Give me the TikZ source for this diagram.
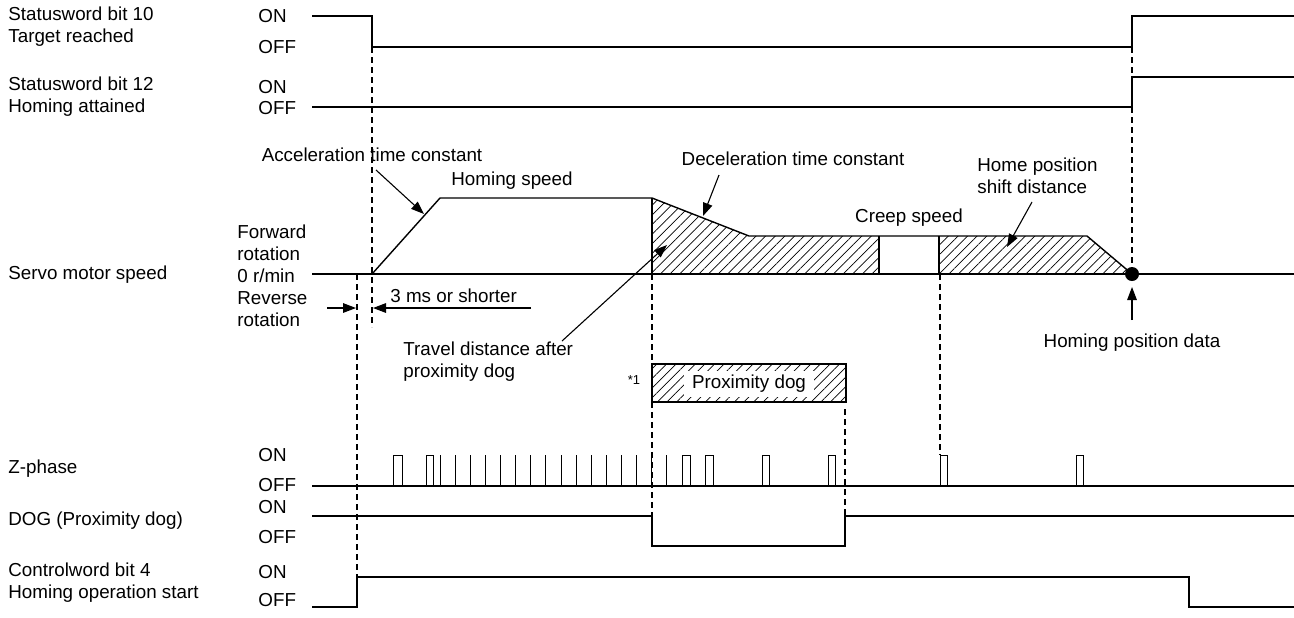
\documentclass[tikz,border=0pt]{standalone}
\usepackage{fontspec}
\setmainfont{Liberation Sans}
\usetikzlibrary{arrows.meta,patterns.meta}

\begin{document}
\begin{tikzpicture}[x=0.5pt,y=-0.5pt,
  lbl/.style={align=left, anchor=west, inner sep=0pt, font=\fontsize{9.4}{11}\selectfont},
  mid/.style={align=center, inner sep=0pt, font=\fontsize{9.4}{11}\selectfont},
  sig/.style={line width=0.7pt},
  pulse/.style={line width=0.5pt},
  guide/.style={dash pattern=on 2.8pt off 2.2pt, line width=0.55pt},
  callout/.style={-{Triangle[length=6.5pt,width=4.8pt]}, line width=0.55pt},
  hatch/.style={pattern={Lines[angle=45,distance=3.4pt,line width=0.35pt]}}]
\useasboundingbox (0,0) rectangle (1294,617);

% signal names
\node[lbl] (sw10) at (8,27) {Statusword bit 10\\Target reached};
\node[lbl] (sw12) at (8,97) {Statusword bit 12\\Homing attained};
\node[lbl] (spd) at (8,275) {Servo motor speed};
\node[lbl] (zph) at (8,469) {Z-phase};
\node[lbl] (dog) at (8,521) {DOG (Proximity dog)};
\node[lbl] (cw4) at (8,583) {Controlword bit 4\\Homing operation start};

% levels
\node[lbl] (on1) at (258,16) {ON};
\node[lbl] (off1) at (258,47) {OFF};
\node[lbl] (on2) at (258,87) {ON};
\node[lbl] (off2) at (258,108) {OFF};
\node[lbl] (rot) at (237,276) {Forward\\rotation\\0 r/min\\Reverse\\rotation};
\node[lbl] (on3) at (258,455) {ON};
\node[lbl] (off3) at (258,485) {OFF};
\node[lbl] (on4) at (258,507) {ON};
\node[lbl] (off4) at (258,537) {OFF};
\node[lbl] (on5) at (258,572) {ON};
\node[lbl] (off5) at (258,600) {OFF};

% waveforms
\draw[sig] (312,16) -- (372,16) -- (372,47) -- (1132,47) -- (1132,16) -- (1294,16);
\draw[sig] (312,107) -- (1132,107) -- (1132,77) -- (1294,77);
\fill[hatch] (652,274) -- (652,198) -- (749,236) -- (879,236) -- (879,274) -- cycle;
\fill[hatch] (939,274) -- (939,236) -- (1087,236) -- (1132,274) -- cycle;
\draw[sig] (312,274) -- (1294,274);
\draw[sig] (372,274) -- (440,198) -- (652,198) -- (749,236) -- (1087,236) -- (1132,274);
\draw[sig] (652,198) -- (652,274) (879,236) -- (879,274) (939,236) -- (939,274);
\draw[sig] (312,486) -- (1294,486);
\foreach \a/\b in {393/402,426/433,682/690,705/713,762/769,828/835,940/947,1076/1083}
  \draw[pulse] (\a,486) -- (\a,455) -- (\b,455) -- (\b,486);
\foreach \i in {0,...,15}
  \draw[pulse] ({440+15.13*\i},486) -- ++(0,-31);
\draw[sig] (312,516) -- (652,516) -- (652,546) -- (845,546) -- (845,516) -- (1294,516);
\draw[sig] (312,607) -- (357,607) -- (357,577) -- (1189,577) -- (1189,607) -- (1294,607);

% timing guides
\draw[guide] (372,47) -- (372,327);
\draw[guide] (357,274) -- (357,577);
\draw[guide] (652,274) -- (652,364) (652,402) -- (652,516);
\draw[guide] (845,409) -- (845,516);
\draw[guide] (940,274) -- (940,455);
\draw[guide] (1132,47) -- (1132,274);

% proximity dog
\draw[hatch, line width=0.6pt] (652,364) rectangle (846,402);
\node[mid, fill=white, inner xsep=4pt, inner ysep=2pt] (pdog) at (749,384) {Proximity dog};
\node[mid, font=\fontsize{6.5}{8}\selectfont] (note1) at (634,380) {*1};

% callouts
\node[mid] (acc) at (372,155) {Acceleration time constant};
\node[mid] (hspd) at (512,181) {Homing speed};
\node[mid] (dec) at (793,159) {Deceleration time constant};
\node[mid] (creep) at (909,218) {Creep speed};
\node[lbl] (shift) at (977,176) {Home position\\shift distance};
\node[lbl] (t3ms) at (390,296) {3 ms or shorter};
\node[lbl] (travel) at (403,362) {Travel distance after\\proximity dog};
\node[mid] (hpos) at (1132,343) {Homing position data};

\coordinate (acc-a) at (376,170);
\coordinate (acc-b) at (424,214);
\coordinate (dec-a) at (719,175);
\coordinate (dec-b) at (703,216);
\coordinate (shift-a) at (1032,202);
\coordinate (shift-b) at (1007,247);
\coordinate (travel-a) at (562,341);
\coordinate (travel-b) at (667,245);
\coordinate (ms-l) at (327,308);
\coordinate (ms-r) at (531,308);
\coordinate (home) at (1132,274);
\coordinate (hpos-a) at (1132,320);

\draw[callout] (acc-a) -- (acc-b);
\draw[callout] (dec-a) -- (dec-b);
\draw[callout] (shift-a) -- (shift-b);
\draw[callout] (travel-a) -- (travel-b);
\draw[callout] (ms-l) -- (356,308);
\draw[callout] (ms-r) -- (373,308);
\fill (home) circle (3.5pt);
\draw[callout] (hpos-a) -- (1132,287);
\end{tikzpicture}
\end{document}
